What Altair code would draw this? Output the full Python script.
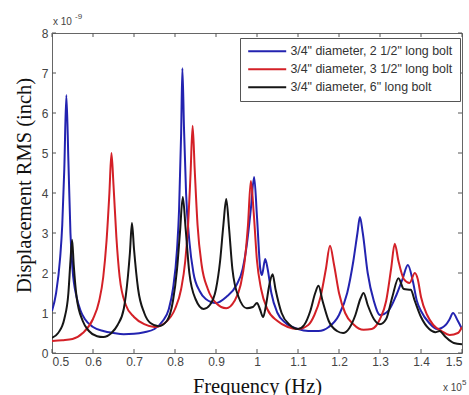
import altair as alt
import pandas as pd

# Frequency in units of 1e5 Hz, displacement in units of 1e-9 inch
blue_f = [0.500, 0.510, 0.520, 0.525, 0.530, 0.535, 0.540, 0.545, 0.550, 0.560, 0.570, 0.580,
          0.600, 0.625, 0.650, 0.675, 0.700, 0.725, 0.750, 0.770, 0.785, 0.795, 0.805, 0.810,
          0.815, 0.818, 0.822, 0.827, 0.835, 0.845, 0.860, 0.875, 0.900, 0.925, 0.950, 0.965,
          0.975, 0.985, 0.993, 1.000, 1.008, 1.012, 1.020, 1.026, 1.035, 1.050, 1.070, 1.100,
          1.125, 1.150, 1.175, 1.200, 1.220, 1.235, 1.245, 1.251, 1.258, 1.270, 1.285, 1.300,
          1.320, 1.340, 1.355, 1.368, 1.380, 1.390, 1.400, 1.420, 1.440, 1.460, 1.470, 1.478,
          1.490, 1.500]
blue_v = [1.05, 1.5, 2.4, 3.2, 4.6, 6.45, 4.8, 3.0, 2.1, 1.4, 1.05, 0.85,
          0.65, 0.55, 0.5, 0.47, 0.48, 0.52, 0.6, 0.8, 1.1, 1.6, 2.6, 3.6,
          5.5, 7.12, 5.6, 4.0, 2.8, 2.0, 1.55, 1.35, 1.25, 1.4, 1.7, 2.1,
          2.7, 3.6, 4.4, 3.4, 2.1, 1.95, 2.35, 2.1, 1.5, 1.0, 0.75, 0.6,
          0.55, 0.55, 0.65, 0.95, 1.5, 2.3, 3.0, 3.4, 3.0, 2.0, 1.3, 0.95,
          1.05, 1.45, 1.85, 2.2, 1.8, 1.3, 1.05, 0.75, 0.6, 0.7, 0.85, 1.0,
          0.8, 0.6]

red_f = [0.500, 0.525, 0.550, 0.575, 0.600, 0.615, 0.625, 0.633, 0.640, 0.645, 0.650, 0.657,
         0.665, 0.680, 0.700, 0.725, 0.750, 0.775, 0.800, 0.815, 0.825, 0.832, 0.838, 0.843,
         0.848, 0.855, 0.865, 0.880, 0.900, 0.925, 0.945, 0.960, 0.970, 0.978, 0.985, 0.992,
         1.000, 1.010, 1.025, 1.050, 1.075, 1.100, 1.125, 1.140, 1.155, 1.168, 1.178, 1.188,
         1.200, 1.215, 1.235, 1.260, 1.280, 1.300, 1.315, 1.327, 1.336, 1.345, 1.358, 1.372,
         1.385, 1.392, 1.400, 1.415, 1.430, 1.450, 1.470, 1.490, 1.500]
red_v = [0.3, 0.32, 0.35, 0.5, 0.85, 1.3, 1.9, 2.8, 4.0, 5.0, 4.2, 2.9,
         1.9, 1.2, 0.9, 0.72, 0.65, 0.75, 1.1, 1.6, 2.3, 3.2, 4.5, 5.68,
         4.6, 3.2, 2.2, 1.6, 1.25, 1.12, 1.3, 1.7, 2.3, 3.2, 4.3, 3.5,
         2.3, 1.6, 1.1, 0.8, 0.65, 0.6, 0.7, 0.95, 1.4, 2.1, 2.68, 2.2,
         1.5, 1.0, 0.72, 0.58, 0.6, 0.85, 1.3, 2.1, 2.73, 2.3, 1.85, 1.75,
         2.0, 1.85, 1.4, 0.95, 0.7, 0.55, 0.45, 0.5, 0.65]

black_f = [0.500, 0.515, 0.530, 0.540, 0.545, 0.549, 0.553, 0.560, 0.575, 0.590, 0.610, 0.625,
           0.645, 0.660, 0.675, 0.685, 0.690, 0.695, 0.700, 0.710, 0.725, 0.740, 0.760, 0.780,
           0.795, 0.805, 0.812, 0.819, 0.826, 0.835, 0.850, 0.870, 0.885, 0.900, 0.910, 0.918,
           0.925, 0.932, 0.940, 0.955, 0.975, 0.990, 1.000, 1.007, 1.015, 1.022, 1.030, 1.038,
           1.045, 1.060, 1.080, 1.100, 1.115, 1.130, 1.142, 1.150, 1.160, 1.175, 1.195, 1.210,
           1.225, 1.240, 1.252, 1.260, 1.270, 1.285, 1.300, 1.315, 1.330, 1.345, 1.358, 1.375,
           1.385, 1.400, 1.420, 1.435, 1.445, 1.460, 1.480, 1.500]
black_v = [0.38, 0.5, 0.85, 1.5, 2.3, 2.83, 2.2, 1.4, 0.8, 0.55, 0.42, 0.4,
           0.5, 0.7, 1.1, 1.9, 2.5, 3.25, 2.6, 1.6, 1.0, 0.75, 0.67, 0.8,
           1.3, 2.1, 3.0, 3.9, 3.1, 2.0, 1.35, 1.1, 1.2, 1.6, 2.3, 3.2,
           3.85, 3.1, 2.1, 1.4, 1.12, 1.15, 1.25, 1.1, 0.9, 1.2, 1.7, 1.97,
           1.6, 1.0, 0.7, 0.6, 0.7, 1.05, 1.5, 1.68, 1.3, 0.8, 0.55, 0.5,
           0.62, 0.95, 1.35, 1.5, 1.2, 0.85, 0.72, 0.85, 1.4, 1.87, 1.6, 1.58,
           1.3, 0.9, 0.6, 0.52, 0.55, 0.4, 0.25, 0.22]

series_names = ['3/4" diameter, 2 1/2" long bolt',
                '3/4" diameter, 3 1/2" long bolt',
                '3/4" diameter, 6" long bolt']
series_colors = ["#2323b0", "#d42027", "#161616"]

x_ticks = [0.5, 0.6, 0.7, 0.8, 0.9, 1.0, 1.1, 1.2, 1.3, 1.4, 1.5]
y_ticks = [0, 1, 2, 3, 4, 5, 6, 7, 8]

rows = []
for name, fs, vs in zip(series_names, [blue_f, red_f, black_f], [blue_v, red_v, black_v]):
    for i, (f, v) in enumerate(zip(fs, vs)):
        rows.append({"series": name, "freq": f, "disp": v, "order": i})
df = pd.DataFrame(rows)

W, H = 410, 320
xs = alt.Scale(domain=[0.5, 1.5], nice=False)
ys = alt.Scale(domain=[0, 8], nice=False)

x_axis = alt.Axis(values=x_ticks, format="~g", title="Frequency (Hz)",
                  labelOverlap=False, titleY=39, titleBaseline="alphabetic")
y_axis = alt.Axis(values=y_ticks, format="~g", title="Displacement RMS (inch)",
                  labelOverlap=False, titleX=-22, titleY=152,
                  titleBaseline="alphabetic", titleAngle=270)

lines = alt.Chart(df).mark_line(strokeWidth=2, interpolate="monotone", clip=True).encode(
    x=alt.X("freq:Q", scale=xs, axis=x_axis),
    y=alt.Y("disp:Q", scale=ys, axis=y_axis),
    color=alt.Color("series:N", sort=series_names,
                    scale=alt.Scale(domain=series_names, range=series_colors),
                    legend=alt.Legend(title=None, orient="none", legendX=188, legendY=5,
                                      symbolType="M-1,0H6.6", symbolSize=100,
                                      symbolStrokeWidth=2, symbolFillColor="transparent",
                                      labelFont="Liberation Sans", labelFontSize=12.4,
                                      labelColor="#333333", strokeColor="#555555",
                                      fillColor="white", padding=7, rowPadding=5,
                                      labelOffset=31, labelLimit=300)),
    order="order:Q",
)

xt = pd.DataFrame({"freq": x_ticks})
yt = pd.DataFrame({"disp": y_ticks})
tick_col = "#555555"
bottom_ticks = alt.Chart(xt).mark_rule(color=tick_col, strokeWidth=1).encode(
    x=alt.X("freq:Q", scale=xs, axis=x_axis), y=alt.value(H), y2=alt.value(H - 4))
top_ticks = alt.Chart(xt).mark_rule(color=tick_col, strokeWidth=1).encode(
    x=alt.X("freq:Q", scale=xs, axis=x_axis), y=alt.value(0), y2=alt.value(4))
left_ticks = alt.Chart(yt).mark_rule(color=tick_col, strokeWidth=1).encode(
    y=alt.Y("disp:Q", scale=ys, axis=y_axis), x=alt.value(0), x2=alt.value(4))
right_ticks = alt.Chart(yt).mark_rule(color=tick_col, strokeWidth=1).encode(
    y=alt.Y("disp:Q", scale=ys, axis=y_axis), x=alt.value(W), x2=alt.value(W - 4))

ann = pd.DataFrame({"a": [0]})
exp_y_base = alt.Chart(ann).mark_text(font="Liberation Sans", fontSize=10, color="#444444",
                                      align="left", baseline="alphabetic").encode(
    x=alt.value(1), y=alt.value(-8), text=alt.value("x 10"))
exp_y_sup = alt.Chart(ann).mark_text(font="Liberation Sans", fontSize=8, color="#444444",
                                     align="left", baseline="alphabetic").encode(
    x=alt.value(23), y=alt.value(-14), text=alt.value("-9"))
exp_x_base = alt.Chart(ann).mark_text(font="Liberation Sans", fontSize=10, color="#444444",
                                      align="left", baseline="alphabetic").encode(
    x=alt.value(391), y=alt.value(358), text=alt.value("x 10"))
exp_x_sup = alt.Chart(ann).mark_text(font="Liberation Sans", fontSize=8, color="#444444",
                                     align="left", baseline="alphabetic").encode(
    x=alt.value(410), y=alt.value(352), text=alt.value("5"))

chart = alt.layer(
    lines, bottom_ticks, top_ticks, left_ticks, right_ticks,
    exp_y_base, exp_y_sup, exp_x_base, exp_x_sup,
).properties(
    width=W, height=H,
    autosize=alt.AutoSizeParams(type="none"),
    padding={"left": 52, "top": 33, "right": 7, "bottom": 42},
    background="white",
).configure_view(
    stroke="#666666", strokeWidth=1
).configure_axis(
    domain=False, ticks=False, grid=False,
    labelFont="Liberation Sans", labelFontSize=12, labelColor="#444444",
    titleFont="Liberation Serif", titleFontSize=20.5, titleFontWeight="normal",
    titleColor="#111111",
).configure_axisX(labelPadding=3).configure_axisY(labelPadding=4)

chart.save("out.html", embed_options={"renderer": "svg", "actions": False})
